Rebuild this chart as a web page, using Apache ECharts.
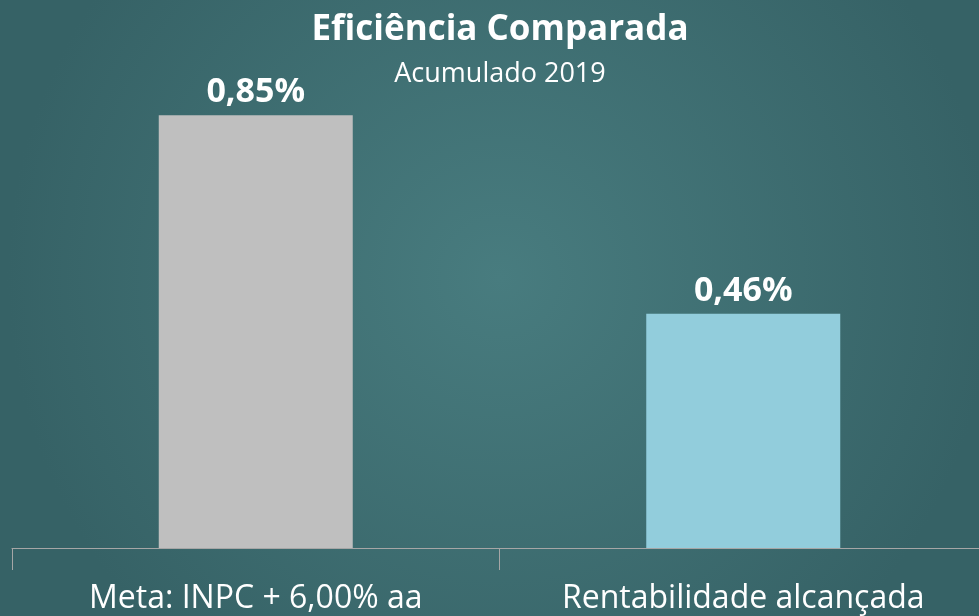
<!DOCTYPE html>
<html>
<head>
<meta charset="utf-8">
<script src="https://cdn.jsdelivr.net/npm/echarts@6/dist/echarts.min.js"></script>
<style>
  html, body { margin: 0; padding: 0; overflow: hidden; }
  /* chart is a bit wider than the window: the original plot runs off the right edge */
  #chart { width: 1000px; height: 616px; }
</style>
</head>
<body>
<div id="chart"></div>
<script>
const categories = ['Meta: INPC + 6,00% aa', 'Rentabilidade alcançada'];
const values = [0.85, 0.46];
const barColors = ['#bfbfbf', '#92cddc'];

const chart = echarts.init(document.getElementById('chart'));
const font = '"Open Sans", "Noto Sans", sans-serif';

const option = {
    backgroundColor: {
        type: 'radial', x: 0.5, y: 0.45, r: 0.8,
        colorStops: [
            {offset: 0, color: '#487c7f'},
            {offset: 1, color: '#366266'}
        ]
    },
    title: {
        text: 'Eficiência Comparada',
        subtext: 'Acumulado 2019',
        left: 'center',
        top: 8,
        itemGap: 13,
        textStyle: {color: '#ffffff', fontSize: 35, fontWeight: 'bold', fontFamily: font},
        subtextStyle: {color: '#ffffff', fontSize: 27, fontFamily: font}
    },
    grid: {left: 12, right: 13, top: 39, bottom: 68, containLabel: false},
    xAxis: {
        type: 'category',
        data: categories,
        axisLine: {show: true, lineStyle: {color: '#a6a6a6', width: 1}},
        axisTick: {show: true, length: 22, lineStyle: {color: '#a6a6a6'}},
        axisLabel: {color: '#ffffff', fontSize: 32, fontFamily: font, margin: 35}
    },
    yAxis: {
        type: 'value',
        min: 0,
        max: 1,
        show: false,
        splitLine: {show: false}
    },
    series: [{
        type: 'bar',
        barWidth: 194,
        data: values.map((v, i) => ({value: v, itemStyle: {color: barColors[i]}})),
        label: {
            show: true,
            position: 'top',
            distance: 6,
            color: '#ffffff',
            fontSize: 34,
            fontWeight: 'bold',
            fontFamily: font,
            formatter: p => p.value.toFixed(2).replace('.', ',') + '%'
        }
    }]
};
chart.setOption(option);
</script>
</body>
</html>
